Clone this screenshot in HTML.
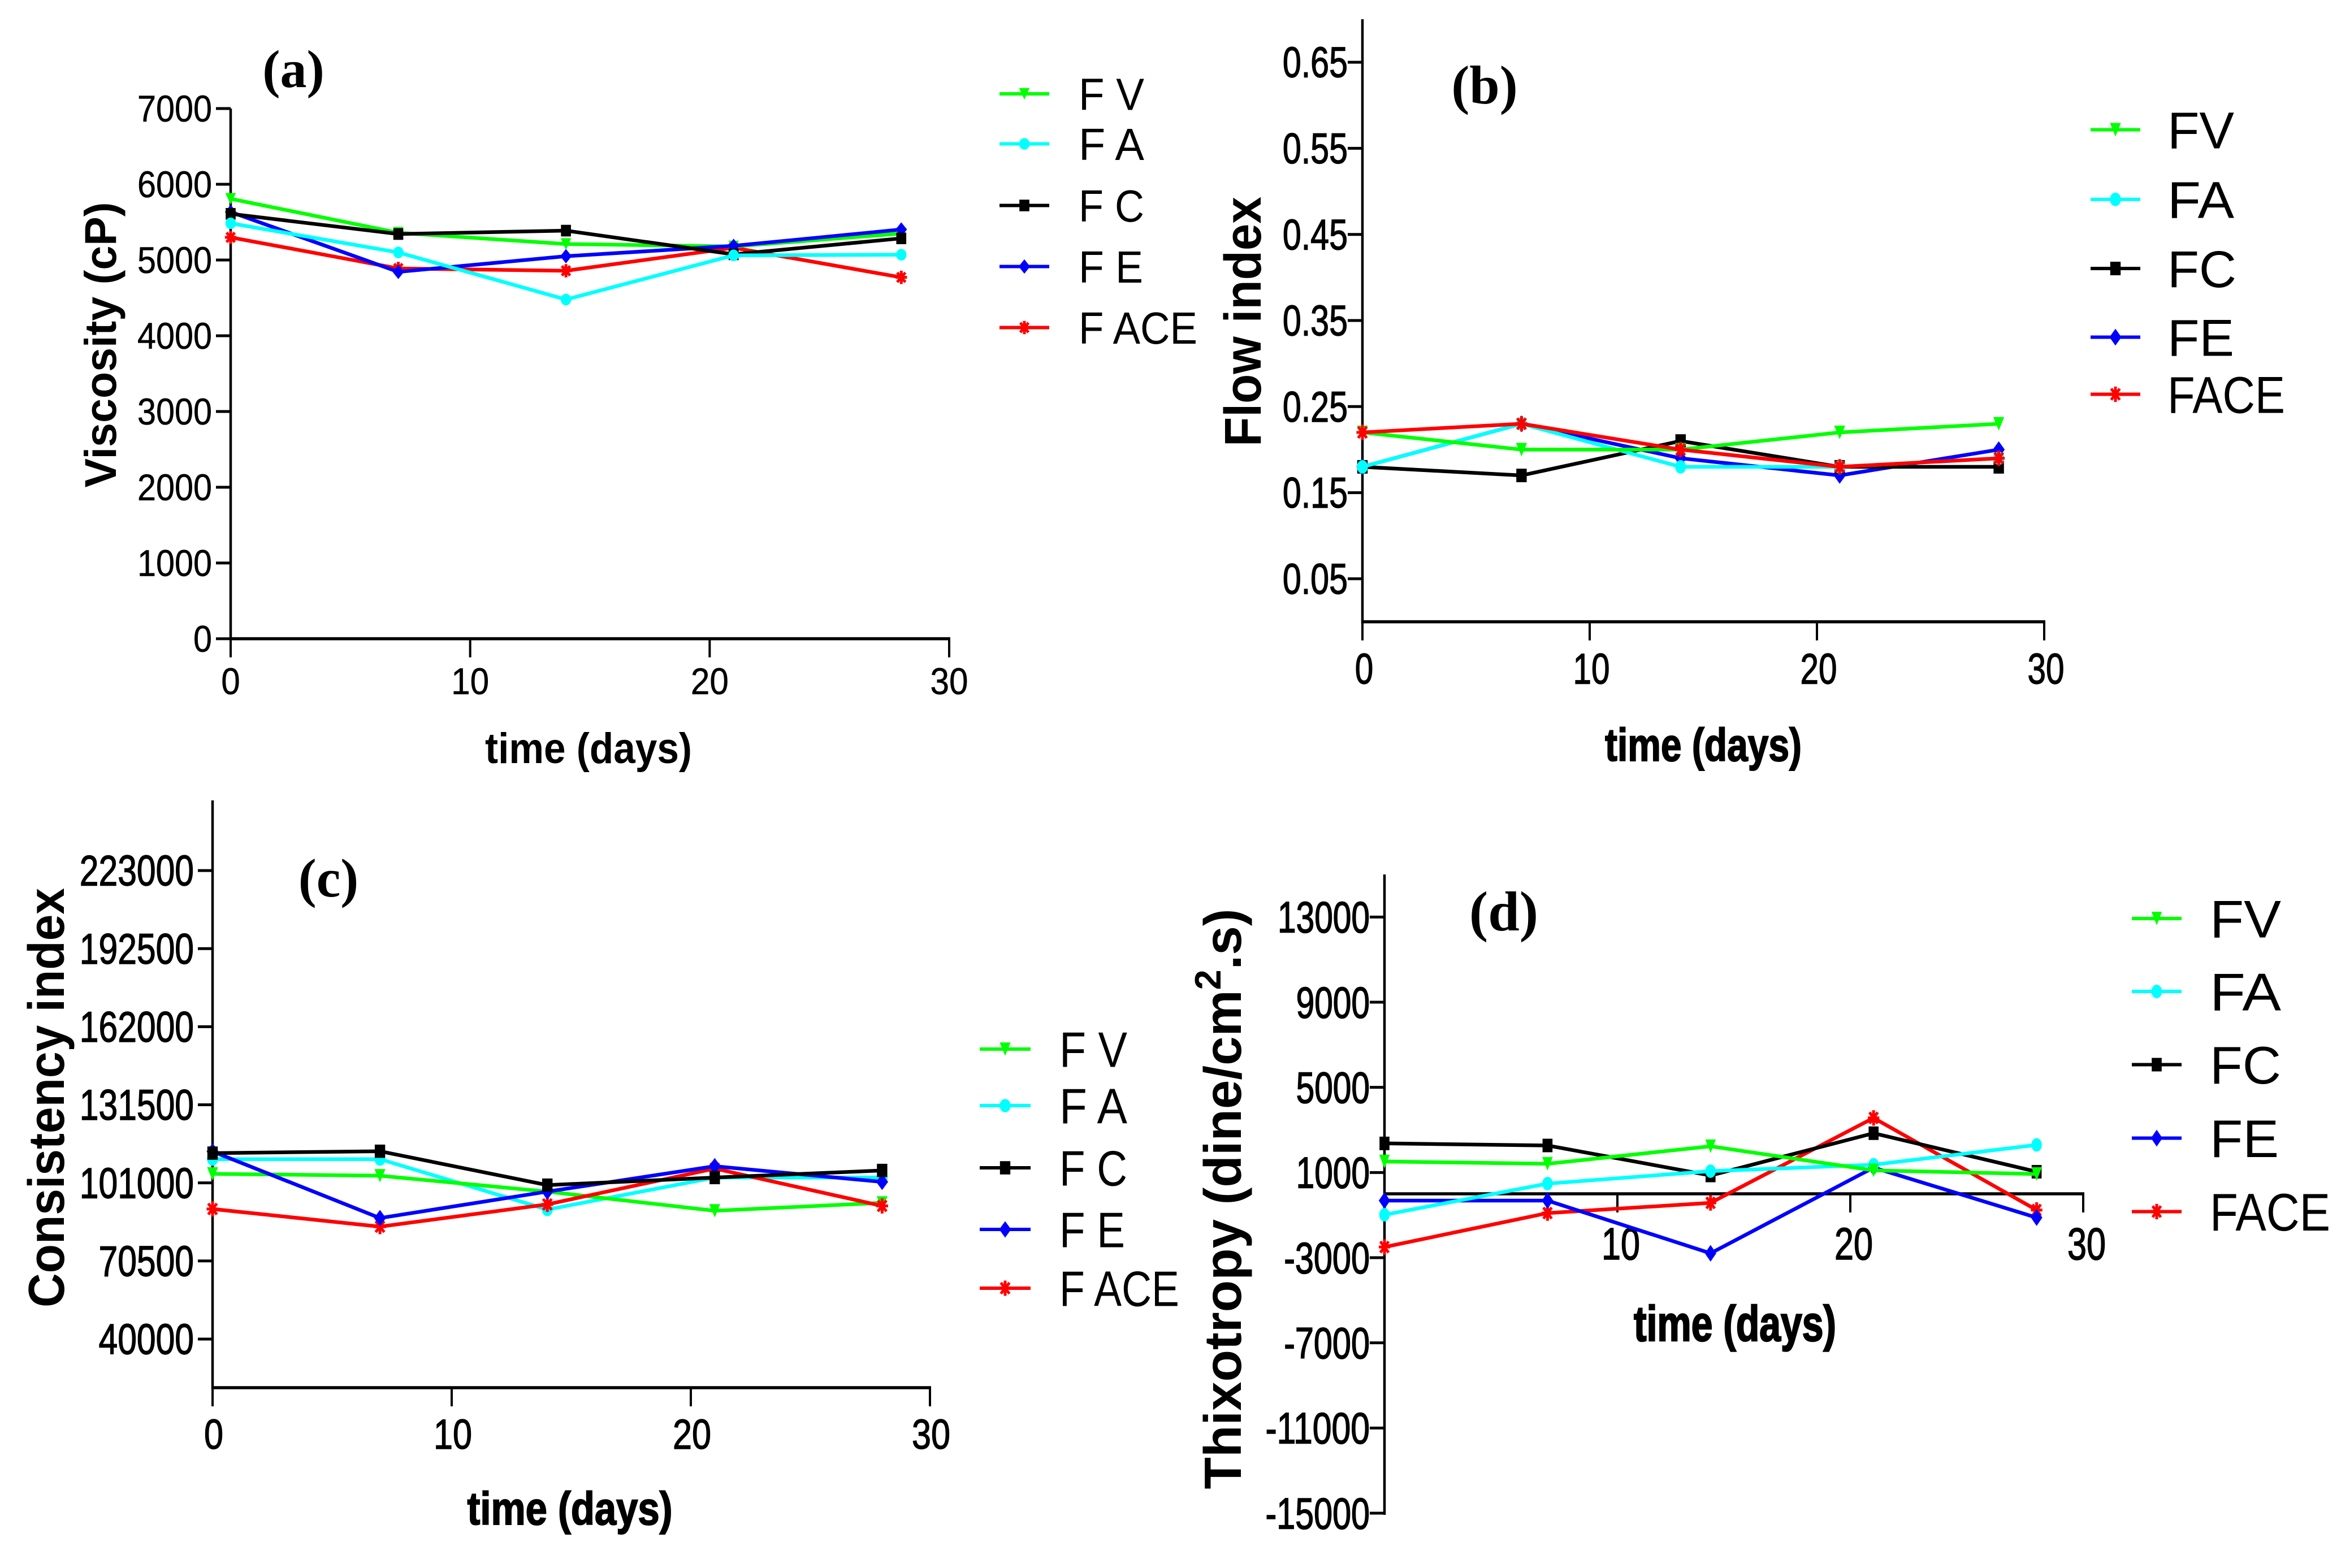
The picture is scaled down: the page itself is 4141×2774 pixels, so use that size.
<!DOCTYPE html>
<html lang="en">
<head>
<meta charset="utf-8">
<title>Rheology stability charts</title>
<style>
html,body{margin:0;padding:0;background:#fff;}
svg{display:block;}
text{font-family:"Liberation Sans",sans-serif;fill:#000;}
.serif{font-family:"Liberation Serif",serif;font-weight:bold;}
.bold{font-weight:bold;}
</style>
</head>
<body>
<svg id="figure" xmlns="http://www.w3.org/2000/svg" width="4141" height="2774" viewBox="0 0 4141 2774">
<rect width="4141" height="2774" fill="#fff"/>
</svg>
<script>
// Shared categories
const days = [0, 7, 14, 21, 28];
const xTickValues = [0, 10, 20, 30];
const xTickValuesD = [10, 20, 30];

// Panel (a) viscosity
const aYTicks = [0, 1000, 2000, 3000, 4000, 5000, 6000, 7000];
const aFV = [5808, 5360, 5211, 5179, 5350];
const aFA = [5485, 5100, 4478, 5062, 5070];
const aFC = [5610, 5343, 5388, 5075, 5286];
const aFE = [5634, 4843, 5050, 5187, 5403];
const aFACE = [5299, 4888, 4858, 5162, 4771];
const aLegend = ['F V', 'F A', 'F C', 'F E', 'F ACE'];

// Panel (b) flow index
const bYTicks = ['0.05', '0.15', '0.25', '0.35', '0.45', '0.55', '0.65'];
const bFV = [0.22, 0.20, 0.20, 0.22, 0.23];
const bFA = [0.18, 0.23, 0.18, 0.18, 0.19];
const bFC = [0.18, 0.17, 0.21, 0.18, 0.18];
const bFE = [0.18, 0.23, 0.19, 0.17, 0.20];
const bFACE = [0.22, 0.23, 0.20, 0.18, 0.19];
const bLegend = ['FV', 'FA', 'FC', 'FE', 'FACE'];

// Panel (c) consistency index
const cYTicks = [40000, 70500, 101000, 131500, 162000, 192500, 223000];
const cFV = [104530, 103800, 97600, 90100, 93200];
const cFA = [110270, 110270, 90570, 103100, 103100];
const cFC = [112630, 113360, 100120, 103070, 105860];
const cFE = [113300, 87250, 97600, 107500, 101400];
const cFACE = [90800, 83900, 92600, 106600, 92000];
const cLegend = ['F V', 'F A', 'F C', 'F E', 'F ACE'];

// Panel (d) thixotropy
const dYTicks = [-15000, -11000, -7000, -3000, 1000, 5000, 9000, 13000];
const dFV = [1516, 1410, 2234, 1098, 930];
const dFA = [-984, 479, 1064, 1365, 2296];
const dFC = [2367, 2270, 860, 2846, 1037];
const dFE = [-319, -319, -2793, 1232, -1117];
const dFACE = [-2500, -904, -425, 3564, -763];
const dLegend = ['FV', 'FA', 'FC', 'FE', 'FACE'];

const seriesColors = {FV:'#00ff00', FA:'#00ffff', FC:'#000000', FE:'#0000ff', FACE:'#ff0000'};
const legendOrder = ['FV', 'FA', 'FC', 'FE', 'FACE'];
const SVGNS = 'http://www.w3.org/2000/svg';

function make(parent, tag, attrs, name, text) {
  const el = document.createElementNS(SVGNS, tag);
  for (const k in attrs) el.setAttribute(k, attrs[k]);
  
  
  if (text !== undefined) el.textContent = text;
  parent.appendChild(el);
  return el;
}

function labelWidth(str, dw) {
  let w = 0;
  for (const ch of String(str)) w += ch === '.' ? dw * 0.5 : ch === '-' ? dw * 0.66 : dw;
  return w;
}

function marker(parent, kind, cx, cy, sx, sy, name) {
  const color = seriesColors[kind];
  if (kind === 'FV') {
    make(parent, 'polygon', {points:[cx-10.5*sx,cy-10.5*sy,cx+10.5*sx,cy-10.5*sy,cx,cy+10.5*sy].join(' '), fill:color}, name);
  } else if (kind === 'FA') {
    make(parent, 'ellipse', {cx:cx, cy:cy, rx:10.5*sx, ry:10.5*sy, fill:color}, name);
  } else if (kind === 'FC') {
    make(parent, 'rect', {x:cx-10*sx, y:cy-10.5*sy, width:20*sx, height:21*sy, fill:color}, name);
  } else if (kind === 'FE') {
    make(parent, 'polygon', {points:[cx,cy-13*sy,cx+11.5*sx,cy,cx,cy+13*sy,cx-11.5*sx,cy].join(' '), fill:color}, name);
  } else {
    const rx = 11.5 * sx;
    const ry = 12 * sy;
    const d = `M${cx} ${cy-ry}V${cy+ry}M${cx-rx} ${cy}H${cx+rx}M${cx-rx*.72} ${cy-ry*.72}L${cx+rx*.72} ${cy+ry*.72}M${cx+rx*.72} ${cy-ry*.72}L${cx-rx*.72} ${cy+ry*.72}`;
    make(parent, 'path', {d:d, stroke:color, 'stroke-width':5, fill:'none'}, name);
  }
}

function drawPanel(p) {
  const root = document.getElementById('figure');
  const g = make(root, 'g', {}, 'panel-' + p.id);
  const x = v => p.xLeft + (v - 0) / 30 * (p.xRight - p.xLeft);
  const y = v => p.yBottom - (v - p.yMin) / (p.yMax - p.yMin) * (p.yBottom - p.yTop);
  const axisY = y(p.xAxisAt);

  make(g, 'text', {x:p.tagX, y:p.tagY, 'font-size':p.tagSize, 'text-anchor':'middle', class:'serif'}, 'panel-label-' + p.id, '(' + p.id + ')');

  // y axis
  make(g, 'line', {x1:p.xLeft, x2:p.xLeft, y1:p.yTop, y2:p.yBottom + 3, stroke:'#000', 'stroke-width':4.5}, 'y-axis-' + p.id);
  p.yTicks.forEach(t => {
    const v = y(Number(t));
    make(g, 'line', {x1:p.xLeft - 26, x2:p.xLeft, y1:v, y2:v, stroke:'#000', 'stroke-width':5}, 'y-tick-' + p.id + '-' + t);
    make(g, 'text', {x:p.yLabelRight, y:v + p.tickSize * 0.35, 'font-size':p.tickSize, 'text-anchor':'end', textLength:labelWidth(t, p.digitW), lengthAdjust:'spacingAndGlyphs', stroke:'#000', 'stroke-width':p.textStroke}, 'y-tick-label-' + p.id + '-' + t, String(t));
  });

  // x axis
  make(g, 'line', {x1:p.xLeft - 2, x2:p.xRight + 2, y1:axisY, y2:axisY, stroke:'#000', 'stroke-width':5.5}, 'x-axis-' + p.id);
  p.xTicks.forEach(t => {
    const v = x(t);
    make(g, 'line', {x1:v, x2:v, y1:axisY, y2:axisY + 33, stroke:'#000', 'stroke-width':4}, 'x-tick-' + p.id + '-' + t);
    make(g, 'text', {x:v + p.xLabelShift, y:p.xLabelY + p.xLabelSize * 0.35, 'font-size':p.xLabelSize, 'text-anchor':'middle', textLength:labelWidth(t, p.xDigitW), lengthAdjust:'spacingAndGlyphs', stroke:'#000', 'stroke-width':p.textStroke}, 'x-tick-label-' + p.id + '-' + t, String(t));
  });

  // axis titles
  make(g, 'text', {x:p.xTitleX, y:p.xTitleY, 'font-size':p.xTitleSize, 'text-anchor':'middle', class:'bold', textLength:p.xTitleW, lengthAdjust:'spacingAndGlyphs', stroke:'#000', 'stroke-width':p.titleStroke}, 'x-axis-title-' + p.id, 'time (days)');
  const yt = make(g, 'text', {x:p.yTitleX, y:p.yTitleC, 'font-size':p.yTitleSize, 'text-anchor':'middle', class:'bold', textLength:p.yTitleW, lengthAdjust:'spacingAndGlyphs', transform:`rotate(-90 ${p.yTitleX} ${p.yTitleC})`}, 'y-axis-title-' + p.id);
  if (p.yTitleParts) {
    p.yTitleParts.forEach((part, i) => {
      const attrs = {};
      if (i === 1) { attrs['font-size'] = p.yTitleSize * 0.7; attrs.dy = -p.yTitleSize * 0.385; }
      if (i === 2) { attrs.dy = p.yTitleSize * 0.385; }
      make(yt, 'tspan', attrs, 'y-axis-title-part-' + i, part);
    });
  } else {
    yt.textContent = p.yTitle;
  }

  // series
  p.order.forEach(name => {
    const values = p.series[name];
    const pts = days.map((d, i) => x(d).toFixed(1) + ',' + y(values[i]).toFixed(1)).join(' ');
    const sg = make(g, 'g', {}, 'series-' + p.id + '-' + name);
    make(sg, 'polyline', {points:pts, fill:'none', stroke:seriesColors[name], 'stroke-width':p.lineW}, 'line-' + p.id + '-' + name);
    days.forEach((d, i) => marker(sg, name, x(d), y(values[i]), p.markX, p.markY, 'point-' + p.id + '-' + name + '-day' + d));
  });

  // legend
  const lg = make(g, 'g', {}, 'legend-' + p.id);
  legendOrder.forEach((name, i) => {
    const ly = p.legY[i];
    const eg = make(lg, 'g', {}, 'legend-entry-' + p.id + '-' + name);
    make(eg, 'line', {x1:p.legX1, x2:p.legX2, y1:ly, y2:ly, stroke:seriesColors[name], 'stroke-width':6}, 'legend-line-' + name);
    marker(eg, name, (p.legX1 + p.legX2) / 2, ly, p.markX, p.markY, 'legend-marker-' + name);
    make(eg, 'text', {x:p.legTextX, y:ly + p.legSize * 0.358, 'font-size':p.legSize, textLength:p.legW[i], lengthAdjust:'spacingAndGlyphs'}, 'legend-label-' + name, p.legend[i]);
  });
}

drawPanel({
  id:'a', xLeft:408, xRight:1679, yTop:192, yBottom:1130, yMin:0, yMax:7000, xAxisAt:0,
  yTicks:aYTicks, xTicks:xTickValues, tickSize:66, digitW:33, yLabelRight:375, textStroke:0.6, titleStroke:0,
  xLabelY:1205, xLabelSize:66, xDigitW:33.5, xLabelShift:0,
  xTitleX:1041, xTitleY:1350, xTitleSize:76, xTitleW:366,
  yTitle:'Viscosity (cP)', yTitleX:205, yTitleC:610, yTitleSize:79, yTitleW:505,
  tagX:519, tagY:154, tagSize:94,
  series:{FV:aFV, FA:aFA, FC:aFC, FE:aFE, FACE:aFACE}, order:['FACE','FV','FE','FC','FA'],
  lineW:6.5, markX:0.88, markY:0.98,
  legend:aLegend, legX1:1768, legX2:1856, legTextX:1908, legSize:80,
  legY:[166,254.5,363.5,471.5,579.5], legW:[116,116,116,114,210]
});

drawPanel({
  id:'b', xLeft:2410, xRight:3616, yTop:34, yBottom:1100, yMin:0, yMax:0.7, xAxisAt:0,
  yTicks:bYTicks, xTicks:xTickValues, tickSize:76, digitW:32.9, yLabelRight:2384, textStroke:1.4, titleStroke:2,
  xLabelY:1183, xLabelSize:76, xDigitW:32.5, xLabelShift:3,
  xTitleX:3013, xTitleY:1346, xTitleSize:82, xTitleW:348,
  yTitle:'Flow index', yTitleX:2230, yTitleC:569, yTitleSize:92, yTitleW:442,
  tagX:2626, tagY:183, tagSize:96,
  series:{FV:bFV, FA:bFA, FC:bFC, FE:bFE, FACE:bFACE}, order:['FE','FC','FA','FV','FACE'],
  lineW:6.5, markX:0.92, markY:1.14,
  legend:bLegend, legX1:3698, legX2:3786, legTextX:3834, legSize:92,
  legY:[229.5,352.7,475,596.5,697.5], legW:[118,118,122,118,208]
});

drawPanel({
  id:'c', xLeft:376, xRight:1645, yTop:1416, yBottom:2455, yMin:21000, yMax:250400, xAxisAt:21000,
  yTicks:cYTicks, xTicks:xTickValues, tickSize:76, digitW:33.7, yLabelRight:343, textStroke:1.4, titleStroke:2,
  xLabelY:2537, xLabelSize:74, xDigitW:34, xLabelShift:2,
  xTitleX:1008, xTitleY:2697, xTitleSize:82, xTitleW:363,
  yTitle:'Consistency index', yTitleX:113, yTitleC:1942, yTitleSize:90, yTitleW:742,
  tagX:581, tagY:1586, tagSize:96,
  series:{FV:cFV, FA:cFA, FC:cFC, FE:cFE, FACE:cFACE}, order:['FA','FV','FACE','FE','FC'],
  lineW:6.5, markX:0.92, markY:1.12,
  legend:cLegend, legX1:1733, legX2:1823, legTextX:1874, legSize:88,
  legY:[1856,1956,2066,2175,2279], legW:[120,120,120,116,212]
});

drawPanel({
  id:'d', xLeft:2449, xRight:3685, yTop:1547, yBottom:2677, yMin:-15000, yMax:15000, xAxisAt:0,
  yTicks:dYTicks, xTicks:xTickValuesD, tickSize:78, digitW:32.6, yLabelRight:2423, textStroke:1.6, titleStroke:2.5,
  xLabelY:2200, xLabelSize:80, xDigitW:34, xLabelShift:6,
  xTitleX:3069, xTitleY:2372, xTitleSize:88, xTitleW:358,
  yTitleParts:['Thixotropy (dine/cm', '2', '.s)'], yTitleX:2195, yTitleC:2121, yTitleSize:93, yTitleW:1027,
  tagX:2660, tagY:1646, tagSize:100,
  series:{FV:dFV, FA:dFA, FC:dFC, FE:dFE, FACE:dFACE}, order:['FACE','FC','FE','FA','FV'],
  lineW:6.5, markX:0.88, markY:1.14,
  legend:dLegend, legX1:3771, legX2:3859, legTextX:3909, legSize:94,
  legY:[1625,1754,1883.5,2013.5,2143.5], legW:[126,126,126,122,213]
});
</script>
</body>
</html>
